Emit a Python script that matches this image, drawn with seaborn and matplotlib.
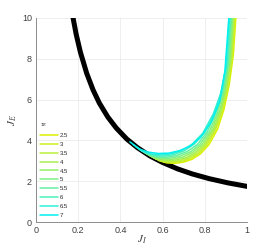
import pandas as pd
import matplotlib
matplotlib.use('Agg')
import matplotlib.pyplot as plt
import seaborn as sns

# Black boundary curve
boundary_JI = [0.17, 0.19, 0.21, 0.24, 0.27, 0.30, 0.34, 0.38, 0.43, 0.48, 0.54, 0.60, 0.67, 0.74, 0.82, 0.91, 1.00]
boundary_JE = [10.3, 9.21, 8.33, 7.29, 6.48, 5.83, 5.15, 4.61, 4.07, 3.65, 3.24, 2.92, 2.61, 2.36, 2.13, 1.92, 1.75]

taus = ['2.5', '3', '3.5', '4', '4.5', '5', '5.5', '6', '6.5', '7']
tau_colors = ['#dcf000', '#ccf020', '#bcf03c', '#a8f050', '#94f068',
              '#80f084', '#64f0a0', '#4cf0bc', '#30f0d4', '#00f0f0']

curve_JI = {
    '2.5': [0.58, 0.62, 0.66, 0.70, 0.74, 0.78, 0.82, 0.86, 0.89, 0.915, 0.935, 0.948],
    '3':   [0.565, 0.605, 0.645, 0.69, 0.73, 0.77, 0.81, 0.85, 0.885, 0.91, 0.93, 0.944],
    '3.5': [0.55, 0.59, 0.635, 0.68, 0.72, 0.76, 0.80, 0.845, 0.88, 0.905, 0.927, 0.940],
    '4':   [0.535, 0.575, 0.62, 0.665, 0.71, 0.75, 0.795, 0.84, 0.875, 0.90, 0.923, 0.936],
    '4.5': [0.52, 0.56, 0.605, 0.65, 0.695, 0.74, 0.785, 0.83, 0.87, 0.895, 0.92, 0.933],
    '5':   [0.505, 0.545, 0.59, 0.635, 0.68, 0.73, 0.775, 0.82, 0.86, 0.89, 0.915, 0.929],
    '5.5': [0.49, 0.53, 0.575, 0.62, 0.665, 0.715, 0.765, 0.81, 0.855, 0.885, 0.91, 0.925],
    '6':   [0.475, 0.515, 0.56, 0.605, 0.65, 0.70, 0.75, 0.80, 0.845, 0.88, 0.905, 0.922],
    '6.5': [0.46, 0.50, 0.545, 0.59, 0.64, 0.69, 0.74, 0.79, 0.84, 0.875, 0.90, 0.918],
    '7':   [0.445, 0.49, 0.53, 0.58, 0.63, 0.68, 0.73, 0.78, 0.83, 0.87, 0.895, 0.915],
}
curve_JE = {
    '2.5': [3.02, 2.90, 2.88, 2.94, 3.08, 3.35, 3.80, 4.55, 5.50, 6.70, 8.20, 10.2],
    '3':   [3.10, 2.95, 2.92, 2.97, 3.10, 3.35, 3.78, 4.50, 5.50, 6.60, 8.10, 10.2],
    '3.5': [3.18, 3.01, 2.96, 3.00, 3.13, 3.36, 3.75, 4.50, 5.45, 6.55, 8.05, 10.2],
    '4':   [3.27, 3.07, 3.01, 3.04, 3.15, 3.37, 3.78, 4.52, 5.45, 6.50, 8.00, 10.2],
    '4.5': [3.37, 3.15, 3.07, 3.08, 3.18, 3.40, 3.78, 4.45, 5.45, 6.45, 8.00, 10.2],
    '5':   [3.47, 3.23, 3.13, 3.13, 3.22, 3.43, 3.78, 4.42, 5.35, 6.40, 7.90, 10.2],
    '5.5': [3.57, 3.31, 3.19, 3.18, 3.26, 3.45, 3.80, 4.40, 5.40, 6.40, 7.80, 10.2],
    '6':   [3.68, 3.40, 3.26, 3.23, 3.30, 3.48, 3.82, 4.40, 5.30, 6.40, 7.70, 10.2],
    '6.5': [3.80, 3.49, 3.34, 3.29, 3.34, 3.50, 3.82, 4.35, 5.30, 6.30, 7.60, 10.2],
    '7':   [3.93, 3.58, 3.43, 3.36, 3.38, 3.50, 3.72, 4.15, 4.90, 5.90, 7.40, 10.2],
}

rows = []
for t in taus:
    for x, y in zip(curve_JI[t], curve_JE[t]):
        rows.append({'JI': x, 'JE': y, 'tau': t})
df = pd.DataFrame(rows)
bdf = pd.DataFrame({'JI': boundary_JI, 'JE': boundary_JE})

sns.set_style('white')
plt.rcParams['font.family'] = ['Liberation Sans', 'DejaVu Sans']
plt.rcParams['mathtext.fontset'] = 'stix'

fig = plt.figure(figsize=(2.73, 2.49), dpi=100)
ax = fig.add_axes([0.132, 0.108, 0.773, 0.82])

sns.lineplot(data=bdf, x='JI', y='JE', color='black', linewidth=3.6,
             sort=False, estimator=None, ax=ax, legend=False)
sns.lineplot(data=df, x='JI', y='JE', hue='tau', hue_order=taus,
             palette=tau_colors, sort=False, estimator=None, linewidth=1.1, ax=ax)

ax.set_xlim(0, 1)
ax.set_ylim(0, 10)
ax.set_xticks([0, 0.2, 0.4, 0.6, 0.8, 1])
ax.set_xticklabels(['0', '0.2', '0.4', '0.6', '0.8', '1'])
ax.set_yticks([0, 2, 4, 6, 8, 10])
ax.grid(True, color='#ebebeb', linewidth=0.6)
ax.set_axisbelow(True)
for s in ['top', 'right']:
    ax.spines[s].set_visible(False)
for s in ['left', 'bottom']:
    ax.spines[s].set_color('#8c8c8c')
    ax.spines[s].set_linewidth(0.7)
ax.tick_params(direction='in', length=2, width=0.5, color='#8c8c8c',
               labelsize=6.5, labelcolor='#404040', pad=3)

ax.set_xlabel(r'$J_I$', fontsize=8, color='#404040', labelpad=-1)
ax.set_ylabel(r'$J_E$', fontsize=8, color='#404040', labelpad=2)

leg = ax.legend(title=r'$\tau_E$', loc='lower left', bbox_to_anchor=(0.0, 0.0),
                frameon=False, fontsize=4.3, title_fontsize=4.6,
                handlelength=3.0, handletextpad=0.3, labelspacing=0.62,
                borderaxespad=0.3, alignment='left')
for line in leg.get_lines():
    line.set_linewidth(1.1)

fig.savefig('out.png', dpi=100)
